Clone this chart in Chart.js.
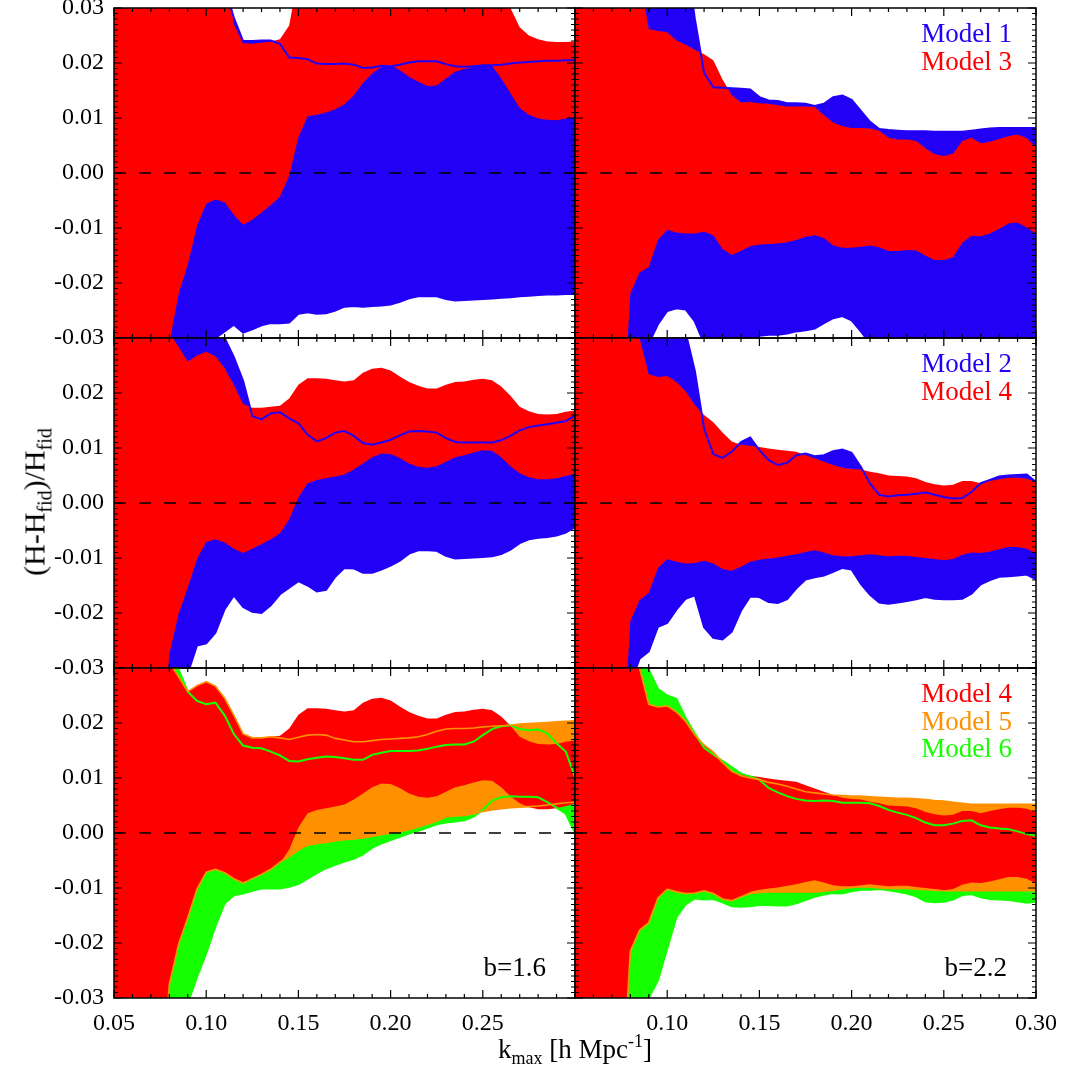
<!DOCTYPE html>
<html>
<head>
<meta charset="UTF-8">
<title>(H-Hfid)/Hfid vs kmax</title>
<script src="https://cdn.jsdelivr.net/npm/chart.js@4.4.1/dist/chart.umd.min.js"></script>
<style>
  body { margin: 0; background: #fff; }
  #wrap { position: relative; width: 1065px; height: 1076px; overflow: hidden; background: #fff; }
  #wrap canvas { position: absolute; }
  .txt { position: absolute; font-family: 'Liberation Serif', 'Times New Roman', serif;
         font-size: 27px; line-height: 27px; white-space: nowrap; color: #000; }
  .txt sub, .txt sup { font-size: 18px; vertical-align: baseline; position: relative; }
  .txt sub { top: 6px; }
  .txt sup { top: -11px; }
  .ytitle { font-size: 30px; line-height: 30px; }
  .ytitle sub { font-size: 20px; top: 7px; }
</style>
</head>
<body>
<div id="wrap">
  <canvas id="c0" width="580" height="350" style="left:0;top:0"></canvas>
  <canvas id="c2" width="580" height="350" style="left:0;top:330px"></canvas>
  <canvas id="c4" width="580" height="416" style="left:0;top:660px"></canvas>
  <canvas id="c1" width="495" height="350" style="left:570px;top:0"></canvas>
  <canvas id="c3" width="495" height="350" style="left:570px;top:330px"></canvas>
  <canvas id="c5" width="495" height="416" style="left:570px;top:660px"></canvas>

  <div class="txt" style="right:53px;top:20px;color:#2200f5">Model 1</div>
  <div class="txt" style="right:53px;top:48px;color:#ff0000">Model 3</div>
  <div class="txt" style="right:53px;top:350px;color:#2200f5">Model 2</div>
  <div class="txt" style="right:53px;top:378px;color:#ff0000">Model 4</div>
  <div class="txt" style="right:53px;top:680px;color:#ff0000">Model 4</div>
  <div class="txt" style="right:53px;top:708px;color:#ff9100">Model 5</div>
  <div class="txt" style="right:53px;top:735px;color:#16ff00">Model 6</div>
  <div class="txt" style="right:519px;top:954px">b=1.6</div>
  <div class="txt" style="right:58px;top:954px">b=2.2</div>

  <div class="txt" style="left:575px;top:1036px;transform:translateX(-50%)">k<sub>max</sub> [h Mpc<sup>-1</sup>]</div>
  <div class="txt ytitle" style="left:36px;top:502px;transform:translate(-50%,-50%) rotate(-90deg)">(H-H<sub>fid</sub>)/H<sub>fid</sub></div>
</div>

<script>
// k_max sampling
const kmax = [
  0.050, 0.055, 0.060, 0.065, 0.070, 0.075, 0.080, 0.085, 0.090, 0.095,
  0.100, 0.105, 0.110, 0.115, 0.120, 0.125, 0.130, 0.135, 0.140, 0.145,
  0.150, 0.155, 0.160, 0.165, 0.170, 0.175, 0.180, 0.185, 0.190, 0.195,
  0.200, 0.205, 0.210, 0.215, 0.220, 0.225, 0.230, 0.235, 0.240, 0.245,
  0.250, 0.255, 0.260, 0.265, 0.270, 0.275, 0.280, 0.285, 0.290, 0.295, 0.300
];

// ---- b=1.6 (left column) ----
const m3LoB16 = [
  -0.06, -0.06, -0.06, -0.06, -0.06, -0.05, -0.031, -0.022, -0.0167, -0.0097,
  -0.0056, -0.0048, -0.0053, -0.0076, -0.0094, -0.0085, -0.0072, -0.0058, -0.0043, -0.0005,
  0.0065, 0.0103, 0.0106, 0.0110, 0.0116, 0.0125, 0.0141, 0.0164, 0.0181, 0.0193,
  0.0196, 0.0187, 0.0175, 0.0166, 0.0158, 0.0159, 0.0172, 0.0184, 0.0189, 0.0193,
  0.0196, 0.0195, 0.0172, 0.0145, 0.0118, 0.0106, 0.0099, 0.0097, 0.0096, 0.0099, 0.0102
];
const m3HiB16 = [
  0.05, 0.05, 0.05, 0.05, 0.05, 0.05, 0.05, 0.05, 0.05, 0.05,
  0.05, 0.05, 0.04, 0.027, 0.0236, 0.0235, 0.0237, 0.0239, 0.0243, 0.0268,
  0.036, 0.05, 0.05, 0.05, 0.05, 0.05, 0.05, 0.05, 0.05, 0.05,
  0.05, 0.05, 0.05, 0.05, 0.05, 0.05, 0.05, 0.05, 0.05, 0.05,
  0.05, 0.05, 0.034, 0.030, 0.0265, 0.0250, 0.0243, 0.0239, 0.0238, 0.0238, 0.0239
];
const m1LoB16 = [
  -0.05, -0.05, -0.05, -0.05, -0.05, -0.05, -0.05, -0.05, -0.05, -0.05,
  -0.033, -0.0300, -0.0288, -0.0276, -0.0290, -0.0284, -0.0277, -0.0273, -0.0273, -0.0272,
  -0.0256, -0.0253, -0.0256, -0.0255, -0.0250, -0.0243, -0.0242, -0.0243, -0.0242, -0.0241,
  -0.0239, -0.0234, -0.0228, -0.0224, -0.0224, -0.0224, -0.0229, -0.0232, -0.0231, -0.0230,
  -0.0229, -0.0228, -0.0227, -0.0226, -0.0224, -0.0223, -0.0222, -0.0221, -0.0221, -0.0220, -0.0220
];
const m1HiB16 = [
  0.05, 0.05, 0.05, 0.05, 0.05, 0.05, 0.05, 0.05, 0.05, 0.05,
  0.05, 0.05, 0.034, 0.0282, 0.0240, 0.0240, 0.0241, 0.0241, 0.0235, 0.0210,
  0.0209, 0.0207, 0.0199, 0.0198, 0.0198, 0.0199, 0.0197, 0.0191, 0.0192, 0.0195,
  0.0194, 0.0197, 0.0201, 0.0203, 0.0203, 0.0203, 0.0198, 0.0194, 0.0193, 0.0194,
  0.0196, 0.0196, 0.0197, 0.0199, 0.0201, 0.0202, 0.0203, 0.0204, 0.0204, 0.0205, 0.0205
];
const m4LoB16 = [
  -0.05, -0.05, -0.05, -0.05, -0.05, -0.05, -0.0275, -0.0202, -0.0154, -0.0102,
  -0.0071, -0.0066, -0.0072, -0.0083, -0.0091, -0.0083, -0.0075, -0.0066, -0.0055, -0.0030,
  0.0010, 0.0036, 0.0042, 0.0045, 0.0048, 0.0052, 0.0061, 0.0072, 0.0083, 0.0090,
  0.0089, 0.0082, 0.0072, 0.0066, 0.0064, 0.0067, 0.0075, 0.0083, 0.0087, 0.0092,
  0.0096, 0.0095, 0.0083, 0.0067, 0.0054, 0.0047, 0.0043, 0.0043, 0.0045, 0.0049, 0.0053
];
const m4HiB16 = [
  0.05, 0.05, 0.05, 0.05, 0.05, 0.05, 0.031, 0.0284, 0.0257, 0.0268,
  0.0275, 0.0267, 0.0245, 0.0214, 0.0180, 0.0173, 0.0173, 0.0175, 0.0177, 0.0190,
  0.0215, 0.0227, 0.0227, 0.0226, 0.0223, 0.0221, 0.0223, 0.0237, 0.0244, 0.0246,
  0.0241, 0.0230, 0.0220, 0.0213, 0.0208, 0.0208, 0.0215, 0.0220, 0.0221, 0.0224,
  0.0226, 0.0223, 0.0212, 0.0195, 0.0175, 0.0167, 0.0162, 0.0161, 0.0162, 0.0166, 0.0168
];
const m2LoB16 = [
  -0.05, -0.05, -0.05, -0.05, -0.05, -0.05, -0.05, -0.05, -0.031, -0.0259,
  -0.0255, -0.0236, -0.0193, -0.0168, -0.0189, -0.0198, -0.0200, -0.0186, -0.0166, -0.0154,
  -0.0142, -0.0150, -0.0161, -0.0158, -0.0134, -0.0118, -0.0119, -0.0127, -0.0127, -0.0121,
  -0.0114, -0.0105, -0.0092, -0.0086, -0.0086, -0.0087, -0.0096, -0.0101, -0.0100, -0.0099,
  -0.0098, -0.0097, -0.0093, -0.0085, -0.0073, -0.0066, -0.0063, -0.0062, -0.0059, -0.0054, -0.0044
];
const m2HiB16 = [
  0.05, 0.05, 0.05, 0.05, 0.05, 0.05, 0.05, 0.05, 0.05, 0.05,
  0.05, 0.05, 0.030, 0.0265, 0.0222, 0.0158, 0.0152, 0.0163, 0.0165, 0.0154,
  0.0145, 0.0124, 0.0112, 0.0118, 0.0128, 0.0131, 0.0122, 0.0109, 0.0106, 0.0110,
  0.0115, 0.0123, 0.0130, 0.0131, 0.0130, 0.0128, 0.0118, 0.0111, 0.0110, 0.0110,
  0.0110, 0.0110, 0.0114, 0.0122, 0.0132, 0.0138, 0.0141, 0.0143, 0.0146, 0.0149, 0.0159
];
const m5LoB16 = [
  -0.05, -0.05, -0.05, -0.05, -0.05, -0.05, -0.0275, -0.0202, -0.0154, -0.0102,
  -0.0071, -0.0066, -0.0072, -0.0083, -0.0091, -0.0083, -0.0075, -0.0066, -0.0053, -0.0043,
  -0.0031, -0.0022, -0.0019, -0.0017, -0.0014, -0.0012, -0.0011, -0.0009, -0.0006, -0.0003,
  0.0000, 0.0003, 0.0006, 0.0011, 0.0016, 0.0022, 0.0029, 0.0031, 0.0032, 0.0035,
  0.0039, 0.0042, 0.0044, 0.0046, 0.0047, 0.0048, 0.0049, 0.0051, 0.0053, 0.0055, 0.0056
];
const m5HiB16 = [
  0.05, 0.05, 0.05, 0.05, 0.05, 0.05, 0.031, 0.0284, 0.0257, 0.0268,
  0.0275, 0.0267, 0.0245, 0.0214, 0.0180, 0.0173, 0.0173, 0.0175, 0.0173, 0.0170,
  0.0174, 0.0178, 0.0179, 0.0178, 0.0172, 0.0169, 0.0166, 0.0166, 0.0168, 0.0170,
  0.0171, 0.0172, 0.0173, 0.0175, 0.0179, 0.0185, 0.0189, 0.0190, 0.0190, 0.0191,
  0.0193, 0.0194, 0.0195, 0.0196, 0.0198, 0.0199, 0.0200, 0.0201, 0.0202, 0.0203, 0.0204
];
const m6LoB16 = [
  -0.05, -0.05, -0.05, -0.05, -0.05, -0.05, -0.05, -0.05, -0.031, -0.0262,
  -0.0219, -0.0170, -0.0128, -0.0113, -0.0110, -0.0105, -0.0101, -0.0101, -0.0101, -0.0098,
  -0.0093, -0.0083, -0.0073, -0.0064, -0.0058, -0.0052, -0.0047, -0.0039, -0.0027, -0.0019,
  -0.0013, -0.0007, -0.0001, 0.0004, 0.0010, 0.0016, 0.0019, 0.0021, 0.0023, 0.0030,
  0.0042, 0.0059, 0.0065, 0.0067, 0.0066, 0.0066, 0.0065, 0.0056, 0.0046, 0.0035, 0.0000
];
const m6HiB16 = [
  0.05, 0.05, 0.05, 0.05, 0.05, 0.05, 0.05, 0.0298, 0.0257, 0.0240,
  0.0234, 0.0237, 0.0214, 0.0180, 0.0159, 0.0155, 0.0154, 0.0148, 0.0141, 0.0131,
  0.0130, 0.0134, 0.0137, 0.0139, 0.0138, 0.0136, 0.0133, 0.0133, 0.0142, 0.0146,
  0.0149, 0.0149, 0.0149, 0.0150, 0.0153, 0.0157, 0.0160, 0.0161, 0.0161, 0.0166,
  0.0178, 0.0189, 0.0194, 0.0196, 0.0189, 0.0187, 0.0188, 0.0181, 0.0163, 0.0148, 0.0102
];

// ---- b=2.2 (right column) ----
const m3LoB22 = [
  -0.05, -0.05, -0.05, -0.05, -0.05, -0.05, -0.0219, -0.0181, -0.0171, -0.0122,
  -0.0103, -0.0108, -0.0110, -0.0110, -0.0107, -0.0113, -0.0138, -0.0149, -0.0142, -0.0133,
  -0.0130, -0.0129, -0.0128, -0.0126, -0.0122, -0.0116, -0.0113, -0.0118, -0.0132, -0.0136,
  -0.0136, -0.0134, -0.0132, -0.0135, -0.0142, -0.0142, -0.0140, -0.0141, -0.0150, -0.0158,
  -0.0158, -0.0153, -0.0127, -0.0114, -0.0115, -0.0110, -0.0102, -0.0092, -0.0090, -0.0099, -0.0110
];
const m3HiB22 = [
  0.05, 0.05, 0.05, 0.05, 0.05, 0.05, 0.05, 0.036, 0.0262, 0.0258,
  0.0256, 0.0241, 0.0233, 0.0224, 0.0216, 0.0205, 0.0170, 0.0142, 0.0128, 0.0129,
  0.0127, 0.0126, 0.0123, 0.0121, 0.0121, 0.0121, 0.0120, 0.0105, 0.0092, 0.0085,
  0.0082, 0.0082, 0.0081, 0.0077, 0.0064, 0.0061, 0.0061, 0.0058, 0.0045, 0.0034,
  0.0031, 0.0035, 0.0058, 0.0064, 0.0054, 0.0057, 0.0062, 0.0067, 0.0070, 0.0063, 0.0047
];
const m1LoB22 = [
  -0.05, -0.05, -0.05, -0.05, -0.05, -0.05, -0.05, -0.05, -0.031, -0.0275,
  -0.0251, -0.0246, -0.0248, -0.0270, -0.031, -0.031, -0.031, -0.031, -0.031, -0.031,
  -0.0296, -0.0294, -0.0294, -0.0292, -0.0288, -0.0286, -0.0283, -0.0273, -0.0264, -0.0260,
  -0.0268, -0.0288, -0.031, -0.032, -0.032, -0.032, -0.032, -0.032, -0.032, -0.032,
  -0.032, -0.032, -0.032, -0.032, -0.032, -0.032, -0.032, -0.032, -0.032, -0.032, -0.032
];
const m1HiB22 = [
  0.05, 0.05, 0.05, 0.05, 0.05, 0.05, 0.05, 0.05, 0.05, 0.05,
  0.05, 0.05, 0.04, 0.028, 0.0182, 0.0156, 0.0155, 0.0154, 0.0153, 0.0152,
  0.0138, 0.0132, 0.0131, 0.0127, 0.0127, 0.0126, 0.0122, 0.0126, 0.0138, 0.0141,
  0.0133, 0.0113, 0.0093, 0.0080, 0.0078, 0.0077, 0.0076, 0.0076, 0.0076, 0.0075,
  0.0075, 0.0075, 0.0075, 0.0077, 0.0079, 0.0081, 0.0082, 0.0082, 0.0082, 0.0082, 0.0082
];
const m4LoB22 = [
  -0.05, -0.05, -0.05, -0.05, -0.05, -0.05, -0.0215, -0.0177, -0.0163, -0.0118,
  -0.0102, -0.0107, -0.0110, -0.0109, -0.0105, -0.0110, -0.0120, -0.0123, -0.0116, -0.0107,
  -0.0103, -0.0101, -0.0099, -0.0096, -0.0093, -0.0089, -0.0086, -0.0090, -0.0095, -0.0097,
  -0.0097, -0.0095, -0.0093, -0.0095, -0.0097, -0.0096, -0.0096, -0.0098, -0.0100, -0.0102,
  -0.0104, -0.0102, -0.0094, -0.0090, -0.0091, -0.0088, -0.0084, -0.0080, -0.0080, -0.0083, -0.0092
];
const m4HiB22 = [
  0.05, 0.05, 0.05, 0.05, 0.05, 0.05, 0.05, 0.030, 0.0234, 0.0229,
  0.0231, 0.0220, 0.0203, 0.0178, 0.0160, 0.0147, 0.0128, 0.0112, 0.0106, 0.0104,
  0.0102, 0.0099, 0.0097, 0.0095, 0.0093, 0.0087, 0.0081, 0.0075, 0.0069, 0.0064,
  0.0062, 0.0061, 0.0057, 0.0054, 0.0050, 0.0049, 0.0048, 0.0045, 0.0038, 0.0034,
  0.0032, 0.0033, 0.0040, 0.0040, 0.0036, 0.0040, 0.0043, 0.0046, 0.0046, 0.0044, 0.0038
];
const m2LoB22 = [
  -0.05, -0.05, -0.05, -0.05, -0.05, -0.05, -0.033, -0.0283, -0.0270, -0.0225,
  -0.0218, -0.0194, -0.0174, -0.0168, -0.0226, -0.0245, -0.0248, -0.0234, -0.0196, -0.0170,
  -0.0171, -0.0180, -0.0182, -0.0175, -0.0155, -0.0139, -0.0135, -0.0132, -0.0125, -0.0118,
  -0.0121, -0.0147, -0.0167, -0.0181, -0.0183, -0.0181, -0.0178, -0.0175, -0.0171, -0.0174,
  -0.0175, -0.0175, -0.0174, -0.0165, -0.0148, -0.0140, -0.0134, -0.0133, -0.0132, -0.0130, -0.0139
];
const m2HiB22 = [
  0.05, 0.05, 0.05, 0.05, 0.05, 0.05, 0.05, 0.05, 0.05, 0.05,
  0.05, 0.05, 0.031, 0.0240, 0.0135, 0.0089, 0.0082, 0.0093, 0.0111, 0.0119,
  0.0096, 0.0078, 0.0069, 0.0073, 0.0087, 0.0090, 0.0085, 0.0087, 0.0094, 0.0097,
  0.0091, 0.0066, 0.0035, 0.0015, 0.0012, 0.0014, 0.0015, 0.0017, 0.0019, 0.0015,
  0.0011, 0.0008, 0.0009, 0.0020, 0.0036, 0.0042, 0.0048, 0.0050, 0.0051, 0.0052, 0.0038
];
const m5LoB22 = [
  -0.05, -0.05, -0.05, -0.05, -0.05, -0.05, -0.0215, -0.0177, -0.0163, -0.0118,
  -0.0102, -0.0107, -0.0110, -0.0109, -0.0105, -0.0110, -0.0120, -0.0123, -0.0116, -0.0110,
  -0.0108, -0.0107, -0.0107, -0.0107, -0.0107, -0.0107, -0.0107, -0.0106, -0.0104, -0.0101,
  -0.0099, -0.0098, -0.0098, -0.0100, -0.0101, -0.0101, -0.0101, -0.0102, -0.0103, -0.0104,
  -0.0105, -0.0105, -0.0105, -0.0105, -0.0105, -0.0105, -0.0105, -0.0105, -0.0105, -0.0105, -0.0105
];
const m5HiB22 = [
  0.05, 0.05, 0.05, 0.05, 0.05, 0.05, 0.05, 0.030, 0.0234, 0.0229,
  0.0231, 0.0220, 0.0203, 0.0178, 0.0160, 0.0147, 0.0128, 0.0112, 0.0104, 0.0100,
  0.0097, 0.0092, 0.0089, 0.0085, 0.0080, 0.0075, 0.0073, 0.0071, 0.0069, 0.0068,
  0.0067, 0.0067, 0.0066, 0.0065, 0.0064, 0.0063, 0.0063, 0.0062, 0.0061, 0.0059,
  0.0058, 0.0056, 0.0054, 0.0052, 0.0052, 0.0052, 0.0052, 0.0052, 0.0052, 0.0052, 0.0052
];
const m6LoB22 = [
  -0.05, -0.05, -0.05, -0.05, -0.05, -0.05, -0.05, -0.05, -0.0300, -0.0268,
  -0.0210, -0.0153, -0.0130, -0.0119, -0.0121, -0.0120, -0.0126, -0.0133, -0.0134, -0.0133,
  -0.0131, -0.0131, -0.0132, -0.0132, -0.0128, -0.0122, -0.0116, -0.0112, -0.0109, -0.0110,
  -0.0106, -0.0103, -0.0103, -0.0102, -0.0104, -0.0107, -0.0110, -0.0115, -0.0124, -0.0126,
  -0.0125, -0.0121, -0.0113, -0.0111, -0.0117, -0.0120, -0.0121, -0.0122, -0.0124, -0.0127, -0.0125
];
const m6HiB22 = [
  0.05, 0.05, 0.05, 0.05, 0.05, 0.05, 0.05, 0.0302, 0.0297, 0.0262,
  0.0250, 0.0244, 0.0209, 0.0181, 0.0155, 0.0143, 0.0131, 0.0120, 0.0108, 0.0103,
  0.0097, 0.0082, 0.0074, 0.0067, 0.0062, 0.0059, 0.0058, 0.0059, 0.0058, 0.0055,
  0.0055, 0.0055, 0.0054, 0.0049, 0.0042, 0.0037, 0.0033, 0.0027, 0.0019, 0.0014,
  0.0014, 0.0017, 0.0022, 0.0023, 0.0014, 0.0010, 0.0008, 0.0007, 0.0003, -0.0002, -0.0005
];

const RED = '#ff0000', BLUE = '#2200f5', ORANGE = '#ff9100', GREEN = '#16ff00';
const FONT = 'Liberation Serif';

// band = [lower, upper, colour]; first band is drawn on top
const panels = [
  { id: 'c0', col: 0, row: 0, bands: [[m3LoB16, m3HiB16, RED], [m1LoB16, m1HiB16, BLUE]] },
  { id: 'c1', col: 1, row: 0, bands: [[m3LoB22, m3HiB22, RED], [m1LoB22, m1HiB22, BLUE]] },
  { id: 'c2', col: 0, row: 1, bands: [[m4LoB16, m4HiB16, RED], [m2LoB16, m2HiB16, BLUE]] },
  { id: 'c3', col: 1, row: 1, bands: [[m4LoB22, m4HiB22, RED], [m2LoB22, m2HiB22, BLUE]] },
  { id: 'c4', col: 0, row: 2, bands: [[m4LoB16, m4HiB16, RED], [m5LoB16, m5HiB16, ORANGE], [m6LoB16, m6HiB16, GREEN]] },
  { id: 'c5', col: 1, row: 2, bands: [[m4LoB22, m4HiB22, RED], [m5LoB22, m5HiB22, ORANGE], [m6LoB22, m6HiB22, GREEN]] }
];

function pts(arr) {
  return arr.map((v, i) => ({ x: kmax[i], y: v }));
}

// box with inward ticks on all four sides (major + minor)
const frame = {
  id: 'frame',
  afterDatasetsDraw(chart) {
    const { ctx, chartArea: a, scales: { x, y } } = chart;
    ctx.save();
    ctx.strokeStyle = '#000';
    ctx.lineWidth = 1.2;
    ctx.beginPath();
    for (let i = 5; i <= 30; i++) {
      const px = x.getPixelForValue(i / 100);
      const len = i % 5 === 0 ? 8 : 4;
      ctx.moveTo(px, a.top); ctx.lineTo(px, a.top + len);
      ctx.moveTo(px, a.bottom); ctx.lineTo(px, a.bottom - len);
    }
    for (let i = -30; i <= 30; i++) {
      const py = y.getPixelForValue(i / 1000);
      const len = i % 10 === 0 ? 8 : 4;
      ctx.moveTo(a.left, py); ctx.lineTo(a.left + len, py);
      ctx.moveTo(a.right, py); ctx.lineTo(a.right - len, py);
    }
    ctx.stroke();
    ctx.lineWidth = 1.5;
    ctx.strokeRect(a.left, a.top, a.right - a.left, a.bottom - a.top);
    ctx.restore();
  }
};

panels.forEach(p => {
  const left = p.col === 0;
  const bottom = p.row === 2;
  const datasets = [{
    data: [{ x: 0.05, y: 0 }, { x: 0.30, y: 0 }],
    borderColor: '#000', borderWidth: 1.5, borderDash: [12, 13], fill: false
  }];
  p.bands.forEach(([lo, hi, color]) => {
    const edge = color === RED ? 'rgba(0,0,0,0)' : color;
    const w = color === ORANGE ? 1.6 : 2;
    datasets.push({ data: pts(lo), borderColor: edge, borderWidth: w, fill: false });
    datasets.push({ data: pts(hi), borderColor: edge, borderWidth: w, backgroundColor: color, fill: '-1' });
  });

  new Chart(document.getElementById(p.id), {
    type: 'line',
    data: { datasets },
    options: {
      responsive: false,
      animation: false,
      devicePixelRatio: 1,
      layout: { padding: { top: 8, right: left ? 5 : 29, bottom: 0, left: 0 } },
      elements: { point: { radius: 0 }, line: { tension: 0 } },
      datasets: { line: { clip: 0 } },
      plugins: {
        legend: { display: false },
        tooltip: { enabled: false },
        filler: { drawTime: 'beforeDatasetsDraw' }
      },
      scales: {
        x: {
          type: 'linear', min: 0.05, max: 0.30,
          grid: { display: false, drawTicks: false },
          border: { display: false },
          ticks: {
            display: bottom, stepSize: 0.05, autoSkip: false, maxRotation: 0,
            padding: 11, color: '#000', font: { family: FONT, size: 24 },
            callback: v => {
              if (left && Math.abs(v - 0.30) < 1e-6) return '';
              if (!left && Math.abs(v - 0.05) < 1e-6) return '';
              return v.toFixed(2);
            }
          },
          afterFit: s => { s.height = bottom ? 78 : 12; s.paddingLeft = 0; s.paddingRight = 0; }
        },
        y: {
          type: 'linear', min: -0.03, max: 0.03,
          grid: { display: false, drawTicks: false },
          border: { display: false },
          ticks: {
            display: left, stepSize: 0.01, autoSkip: false,
            padding: 10, color: '#000', font: { family: FONT, size: 24 },
            callback: v => {
              if (p.row > 0 && v > 0.0295) return '';
              const s = v.toFixed(2);
              return s === '-0.00' ? '0.00' : s;
            }
          },
          afterFit: s => { s.width = left ? 114 : 5; s.paddingTop = 0; s.paddingBottom = 0; }
        }
      }
    },
    plugins: [frame]
  });
});
</script>
</body>
</html>
